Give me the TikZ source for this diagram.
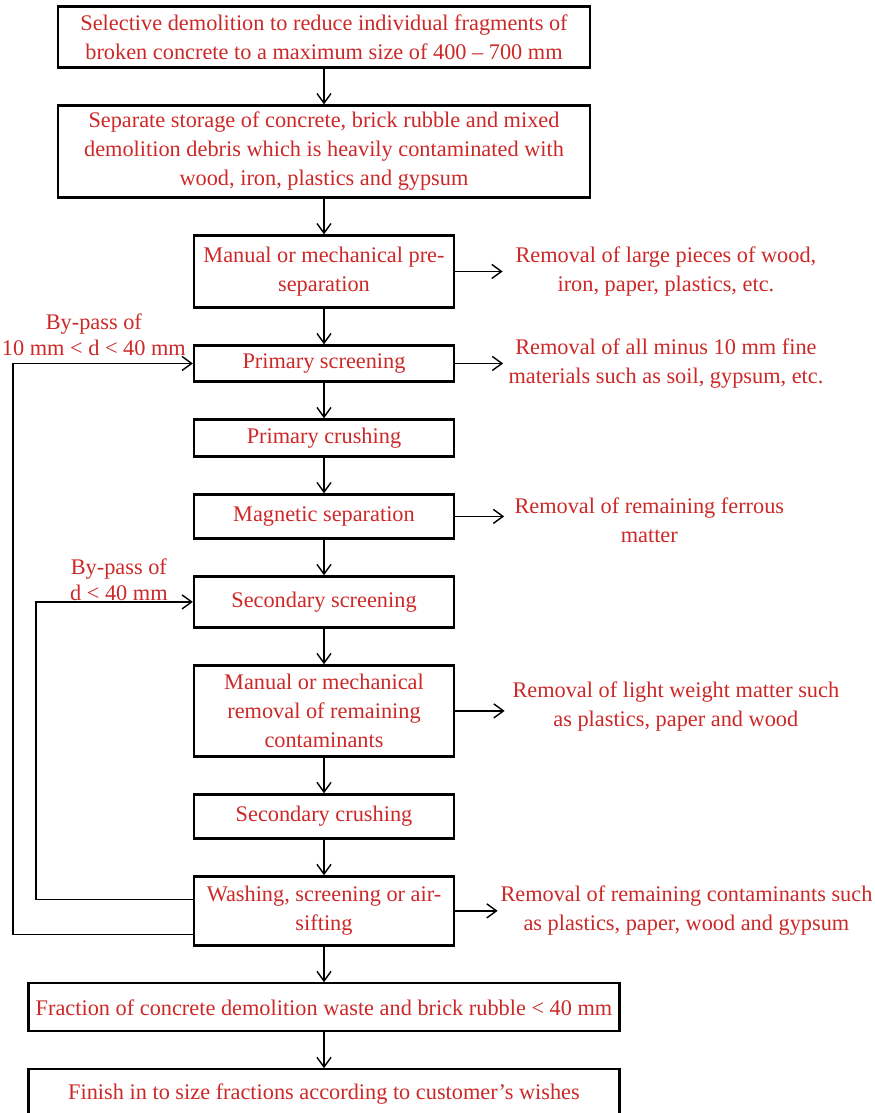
\documentclass[tikz,border=0pt]{standalone}
\usepackage{fontspec}
\setmainfont{Liberation Serif}
\usetikzlibrary{arrows.meta,positioning,matrix}
\definecolor{txtred}{RGB}{204,40,40}

\begin{document}
\begin{tikzpicture}[auto, >={Straight Barb[length=5.5pt,width=8pt]}]
\tikzstyle{widebox} = [rectangle, draw, line width=1.3pt, text=txtred, align=center,
minimum width=10.64cm, inner sep=2pt, font=\fontsize{12.7}{16.5}\selectfont]
\tikzstyle{stepbox} = [widebox, minimum width=5.2cm]
\tikzstyle{note} = [text=txtred, align=center, inner sep=0pt, font=\fontsize{12.7}{16.5}\selectfont]
\tikzstyle{bypass} = [note, font=\fontsize{12.7}{14.6}\selectfont]
\tikzstyle{line} = [draw, line width=0.8pt, ->];
\useasboundingbox (0,0) rectangle (17.48,-22.26);
\matrix [row sep=0.714cm, inner sep=0pt, anchor=north] at (6.48,-0.1)
{
% row 1
\node [widebox, minimum height=1.22cm] (demol) {Selective demolition to reduce individual fragments of\\
broken concrete to a maximum size of 400 -- 700 mm}; \\
\node [widebox, minimum height=1.84cm] (store) {Separate storage of concrete, brick rubble and mixed\\
demolition debris which is heavily contaminated with\\
wood, iron, plastics and gypsum}; \\
\node [stepbox, minimum height=1.44cm] (presep) {Manual or mechanical pre-\\separation}; \\
\node [stepbox, minimum height=0.72cm] (prisc) {Primary screening}; \\
\node [stepbox, minimum height=0.74cm] (pricr) {Primary crushing}; \\
\node [stepbox, minimum height=0.88cm] (magsep) {Magnetic separation}; \\
% row 7
\node [stepbox, minimum height=1.02cm] (secsc) {Secondary screening}; \\
\node [stepbox, minimum height=1.82cm] (remov) {Manual or mechanical\\
removal of remaining\\
contaminants}; \\
\node [stepbox, minimum height=0.88cm] (seccr) {Secondary crushing}; \\
\node [stepbox, minimum height=1.38cm] (wash) {Washing, screening or air-\\sifting}; \\
% row 11
\node [widebox, minimum width=11.82cm, minimum height=0.96cm] (fract) {Fraction of concrete demolition waste and brick rubble < 40 mm}; \\
\node [widebox, minimum width=11.82cm, minimum height=1.0cm] (finish) {Finish in to size fractions according to customer's wishes}; \\
};

% removed matter
\node [note, right=1.2cm of presep] (n1) {Removal of large pieces of wood,\\
iron, paper, plastics, etc.};
\node [note, right=1.06cm of prisc] (n2) {Removal of all minus 10 mm fine\\
materials such as soil, gypsum, etc.};
\node [note, right=1.18cm of magsep, yshift=-0.08cm] (n3) {Removal of remaining ferrous\\
matter};
\node [note, right=1.14cm of remov, yshift=0.08cm] (n4) {Removal of light weight matter such\\
as plastics, paper and wood};
\node [note, right=0.9cm of wash] (n5) {Removal of remaining contaminants such\\
as plastics, paper, wood and gypsum};

% by-pass labels
\node [bypass] (bp1) at ([xshift=-1.98cm, yshift=0.58cm]prisc.west) {By-pass of\\
10 mm < d < 40 mm};
\node [bypass] (bp2) at ([xshift=-1.48cm, yshift=0.44cm]secsc.west) {By-pass of\\
d < 40 mm};
\coordinate (outerrail) at (0.26,0);
\coordinate (innerrail) at (0.72,0);
\coordinate (outerstart) at ([yshift=-0.47cm]wash.west);
\coordinate (innerstart) at ([yshift=0.23cm]wash.west);

\tikzstyle{every path}=[line]
\path (demol) -- (store);
\path (store) -- (presep);
\path (presep) -- (prisc);
\path (prisc) -- (pricr);
\path (pricr) -- (magsep);
\path (magsep) -- (secsc);
\path (secsc) -- (remov);
\path (remov) -- (seccr);
\path (seccr) -- (wash);
\path (wash) -- (fract);
\path (fract) -- (finish);
\path (presep.east) -- ([xshift=-0.25cm]presep.east -| n1.west);
\path (prisc.east) -- ([xshift=-0.1cm]prisc.east -| n2.west);
\path (magsep.east) -- ([xshift=-0.2cm]magsep.east -| n3.west);
\path (remov.east) -- ([xshift=-0.15cm]remov.east -| n4.west);
\path (wash.east) -- ([xshift=-0.05cm]wash.east -| n5.west);
\path (outerstart) -| (outerrail |- prisc.west) -- (prisc.west);
\path (innerstart) -| (innerrail |- secsc.west) -- (secsc.west);
\end{tikzpicture}
\end{document}
